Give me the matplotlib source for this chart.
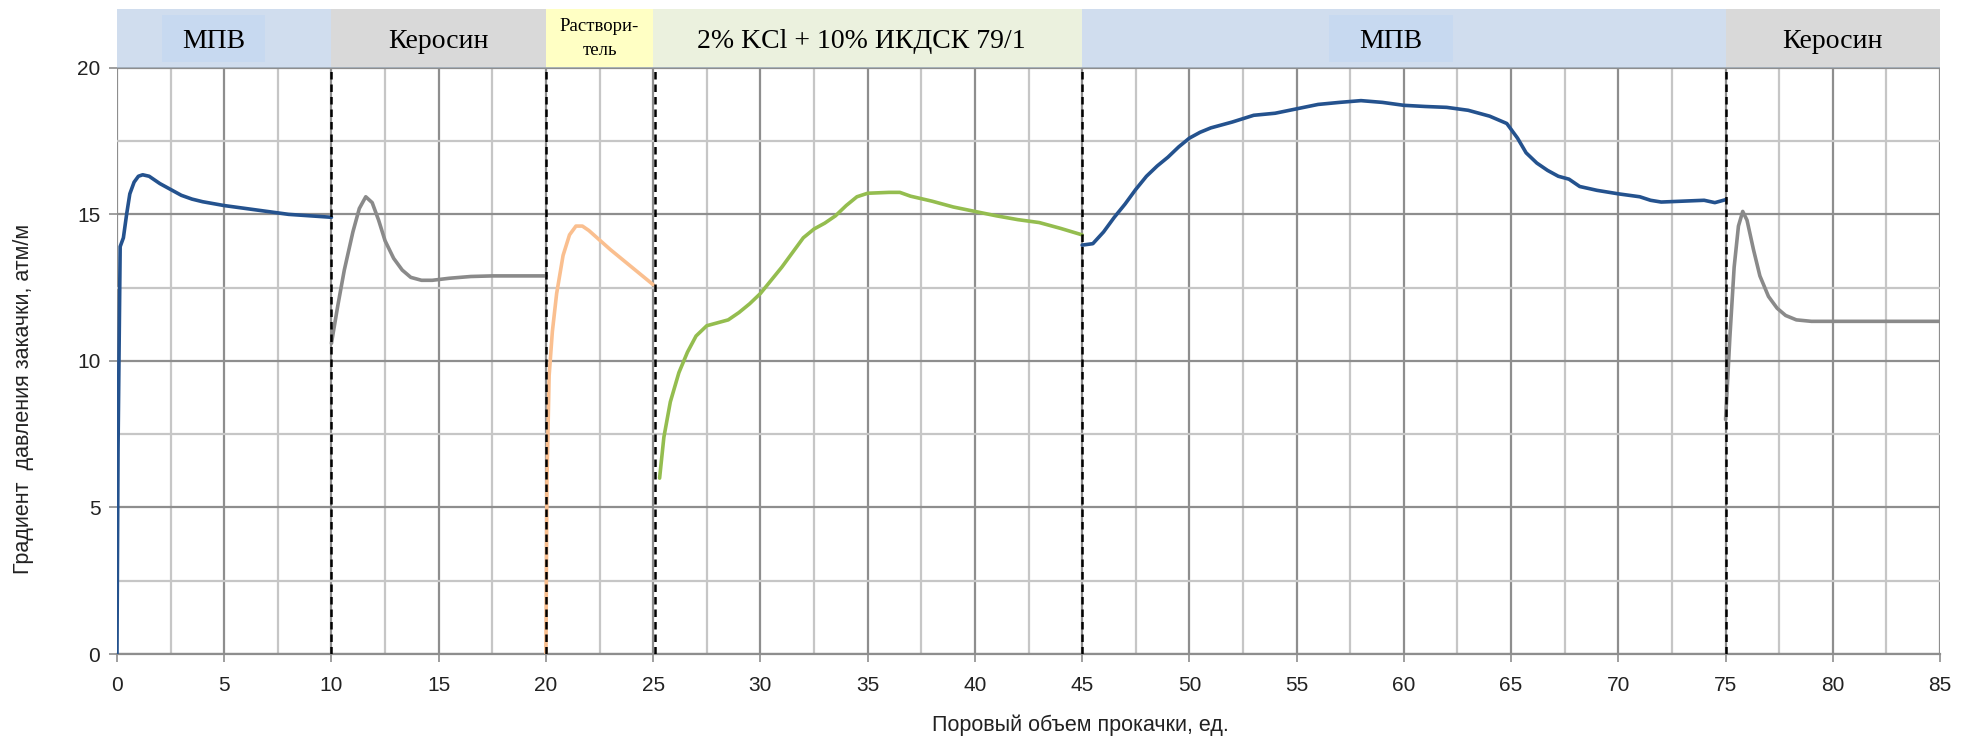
import numpy as np
import matplotlib
matplotlib.use("Agg")
import matplotlib.pyplot as plt
from matplotlib.patches import Rectangle

# ---- data ----
x_mpv1 = [0, 0.05, 0.15, 0.3, 0.45, 0.6, 0.8, 1.0, 1.2, 1.5, 2.0, 2.5, 3.0, 3.5, 4.0, 5.0, 6.0, 7.0, 8.0, 9.0, 10.0]
y_mpv1 = [0, 7.0, 13.9, 14.2, 15.0, 15.7, 16.1, 16.3, 16.35, 16.3, 16.05, 15.85, 15.65, 15.52, 15.43, 15.3, 15.2, 15.1, 15.0, 14.95, 14.9]

x_ker1 = [10.0, 10.3, 10.6, 11.0, 11.3, 11.6, 11.9, 12.2, 12.5, 12.9, 13.3, 13.7, 14.2, 14.7, 15.5, 16.5, 17.5, 18.5, 20.0]
y_ker1 = [10.6, 11.9, 13.1, 14.4, 15.2, 15.6, 15.4, 14.8, 14.1, 13.5, 13.1, 12.85, 12.75, 12.75, 12.82, 12.88, 12.9, 12.9, 12.9]

x_solv = [20.0, 20.05, 20.15, 20.3, 20.5, 20.8, 21.1, 21.4, 21.7, 22.0, 23.0, 24.0, 25.0]
y_solv = [0, 6.0, 9.5, 11.0, 12.3, 13.6, 14.3, 14.6, 14.6, 14.45, 13.8, 13.2, 12.6]

x_kcl = [25.3, 25.5, 25.8, 26.2, 26.6, 27.0, 27.5, 28.0, 28.5, 29.0, 29.5, 30.0, 30.5, 31.0, 31.5, 32.0, 32.5, 33.0, 33.5, 34.0, 34.5, 35.0, 36.0, 36.5, 37.0, 38.0, 39.0, 40.0, 41.0, 42.0, 43.0, 44.0, 45.0]
y_kcl = [6.0, 7.4, 8.6, 9.6, 10.3, 10.85, 11.2, 11.3, 11.4, 11.65, 11.95, 12.3, 12.75, 13.2, 13.7, 14.2, 14.5, 14.7, 14.95, 15.3, 15.6, 15.72, 15.75, 15.75, 15.62, 15.45, 15.25, 15.1, 14.95, 14.82, 14.72, 14.52, 14.3]

x_mpv2 = [45.0, 45.5, 46.0, 46.5, 47.0, 47.5, 48.0, 48.5, 49.0, 49.5, 50.0, 50.5, 51.0, 52.0, 53.0, 54.0, 55.0, 56.0, 57.0, 58.0, 59.0, 60.0, 61.0, 62.0, 63.0, 64.0, 64.8, 65.3, 65.7, 66.2, 66.7, 67.2, 67.7, 68.2, 69.0, 70.0, 71.0, 71.5, 72.0, 73.0, 74.0, 74.5, 75.0]
y_mpv2 = [13.95, 14.0, 14.4, 14.9, 15.35, 15.85, 16.3, 16.65, 16.95, 17.3, 17.6, 17.8, 17.95, 18.15, 18.38, 18.45, 18.6, 18.75, 18.82, 18.88, 18.82, 18.72, 18.68, 18.65, 18.55, 18.35, 18.1, 17.6, 17.1, 16.75, 16.5, 16.3, 16.2, 15.95, 15.82, 15.7, 15.6, 15.48, 15.42, 15.45, 15.48, 15.4, 15.5]

x_ker2 = [75.0, 75.2, 75.4, 75.6, 75.8, 76.0, 76.3, 76.6, 77.0, 77.4, 77.8, 78.3, 79.0, 80.0, 82.0, 85.0]
y_ker2 = [8.0, 10.8, 13.2, 14.6, 15.1, 14.8, 13.8, 12.9, 12.2, 11.8, 11.55, 11.4, 11.35, 11.35, 11.35, 11.35]

stage_bounds = [0, 10, 20, 25, 45, 75, 85]
stage_labels = ["МПВ", "Керосин", "Раствори-\nтель", "2% KCl + 10% ИКДСК 79/1", "МПВ", "Керосин"]
stage_label_x = [4.5, 15.0, 22.5, 34.7, 59.4, 80.0]
divider_x = [10, 20, 25.1, 45, 75]

# ---- styles ----
c_blue = "#24528e"
c_grey = "#8a8a8a"
c_orange = "#fabf8f"
c_green = "#94bd4f"
stage_colors = ["#d0ddee", "#d9d9d9", "#ffffc4", "#ebf1de", "#d0ddee", "#d9d9d9"]
inner_colors = ["#c7d9f0", None, None, None, "#c7d9f0", None]
inner_spans = [(2.1, 6.9), None, None, None, (56.5, 62.3), None]

fig = plt.figure(figsize=(19.69, 7.41), dpi=100)
ax = fig.add_axes([0.0594, 0.1174, 0.9259, 0.7911])
hax = fig.add_axes([0.0594, 0.9085, 0.9259, 0.0795], sharex=ax)

ax.set_xlim(0, 85)
ax.set_ylim(0, 20)
ax.set_xticks(np.arange(0, 86, 5))
ax.set_xticks(np.arange(0, 86, 2.5), minor=True)
ax.set_yticks(np.arange(0, 21, 5))
ax.set_yticks(np.arange(0, 21, 2.5), minor=True)
ax.grid(which="major", color="#8e8e8e", lw=1.6)
ax.grid(which="minor", color="#c6c6c6", lw=1.6)
ax.set_axisbelow(True)
for s in ["top", "right", "left"]:
    ax.spines[s].set_visible(False)
ax.spines["bottom"].set_color("#8e8e8e")
ax.spines["bottom"].set_linewidth(1.6)
ax.tick_params(axis="x", which="major", length=6, width=1.2, color="#8e8e8e",
               labelsize=15, labelcolor="#222222", pad=10)
ax.tick_params(axis="y", which="major", length=6, width=1.2, color="#8e8e8e",
               labelsize=15, labelcolor="#222222", pad=6)
ax.tick_params(which="minor", length=0)
for lab in ax.get_xticklabels() + ax.get_yticklabels():
    lab.set_fontfamily("Liberation Sans")

lw = 2.6
ax.plot(x_mpv1, y_mpv1, color=c_blue, lw=lw, solid_capstyle="round", zorder=3)
ax.plot(x_ker1, y_ker1, color=c_grey, lw=lw, solid_capstyle="round", zorder=3)
ax.plot(x_solv, y_solv, color=c_orange, lw=lw, solid_capstyle="round", zorder=3)
ax.plot(x_kcl, y_kcl, color=c_green, lw=lw, solid_capstyle="round", zorder=3)
ax.plot(x_mpv2, y_mpv2, color=c_blue, lw=lw, solid_capstyle="round", zorder=3)
ax.plot(x_ker2, y_ker2, color=c_grey, lw=lw, solid_capstyle="round", zorder=3)

for xd in divider_x:
    ax.axvline(xd, color="black", lw=1.8, ls=(0, (3, 2)), zorder=4)

fig.text(0.5486, 0.021, "Поровый объем прокачки, ед.", fontsize=15.5,
         family="Liberation Sans", color="#222222", ha="center", va="center")
fig.text(0.0117, 0.4615, "Градиент  давления закачки, атм/м", fontsize=15.5,
         family="Liberation Sans", color="#222222", ha="center", va="center",
         rotation=90)

# ---- header band ----
hax.set_ylim(0, 1)
hax.axis("off")
for i in range(len(stage_labels)):
    x0, x1 = stage_bounds[i], stage_bounds[i + 1]
    hax.add_patch(Rectangle((x0, 0), x1 - x0, 1, facecolor=stage_colors[i],
                            edgecolor="none", zorder=1))
    if inner_spans[i] is not None:
        a, b = inner_spans[i]
        hax.add_patch(Rectangle((a, 0.1), b - a, 0.8, facecolor=inner_colors[i],
                                edgecolor="none", zorder=2))
    if i == 2:
        hax.text(stage_label_x[i], 0.5, stage_labels[i], ha="center", va="center",
                 fontsize=13.5, family="Liberation Serif", linespacing=1.5, zorder=3)
    else:
        hax.text(stage_label_x[i], 0.45, stage_labels[i], ha="center", va="center",
                 fontsize=20, family="Liberation Serif", zorder=3)
hax.axhline(0.0, color="#9aa6b2", lw=1.2, zorder=4)

fig.savefig("out.png", dpi=100)
